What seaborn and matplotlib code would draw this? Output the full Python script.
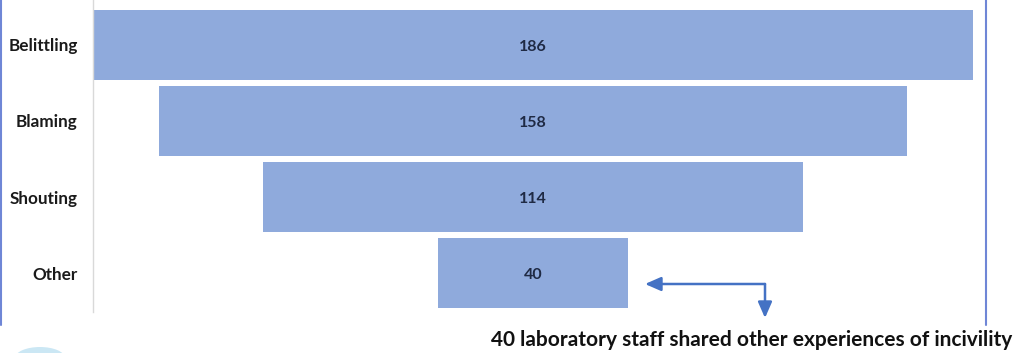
import matplotlib
matplotlib.use("Agg")
import matplotlib.pyplot as plt
import seaborn as sns
import pandas as pd
from matplotlib.lines import Line2D
from matplotlib.patches import Ellipse

categories = ["Belittling", "Blaming", "Shouting", "Other"]
counts = [186, 158, 114, 40]
note = "40 laboratory staff shared other experiences of incivility"

df = pd.DataFrame({"category": categories, "count": counts})

sns.set_theme(style="white")
plt.rcParams["font.family"] = ["Lato", "DejaVu Sans"]

W, H = 1014, 353
fig = plt.figure(figsize=(W / 100, H / 100), dpi=100)
# axes spans x pixels 93..973, y pixels 0..312
ax = fig.add_axes([93 / W, 1 - 312 / H, (973 - 93) / W, 312 / H])

bar_color = "#8FAADC"
sns.barplot(data=df, x="count", y="category", orient="h", color=bar_color,
            width=0.92, saturation=1, ax=ax)

# centre each bar to form a funnel
vmax = max(counts)
for patch, v in zip(ax.patches, counts):
    patch.set_x((vmax - v) / 2)
    patch.set_edgecolor("none")
    cy = patch.get_y() + patch.get_height() / 2
    ax.text(vmax / 2, cy + 0.02, f"{v}", ha="center", va="center",
            fontsize=11.5, fontweight="bold", color="#1F2A44")

ax.set_xlim(0, vmax)
ax.set_ylim(3.513, -0.592)
ax.set_xlabel("")
ax.set_ylabel("")
ax.set_xticks([])
ax.tick_params(axis="y", length=0, pad=11)
for lbl in ax.get_yticklabels():
    lbl.set_fontweight("bold")
    lbl.set_fontsize(12.3)
    lbl.set_color("#1a1a1a")
for s in ["top", "right", "bottom"]:
    ax.spines[s].set_visible(False)
ax.spines["left"].set_color("#d9d9d9")
ax.spines["left"].set_linewidth(1)

# outer frame lines
frame_col = "#6F86D6"
fig.add_artist(Line2D([1 / W, 1 / W], [1 - 325 / H, 1], color=frame_col, lw=1.5,
                      transform=fig.transFigure))
fig.add_artist(Line2D([986 / W, 986 / W], [1 - 325 / H, 1], color=frame_col, lw=1.5,
                      transform=fig.transFigure))

# elbow arrow pointing to the "Other" bar and down to the note
arrow_col = "#4472C4"
corner = (765 / W, 1 - 284 / H)
ax.annotate("", xy=(645 / W, corner[1]), xycoords="figure fraction",
            xytext=corner, textcoords="figure fraction",
            arrowprops=dict(arrowstyle="-|>,head_length=0.8,head_width=0.35",
                            color=arrow_col, lw=1.8, shrinkA=0, shrinkB=0),
            annotation_clip=False)
ax.annotate("", xy=(corner[0], 1 - 318 / H), xycoords="figure fraction",
            xytext=corner, textcoords="figure fraction",
            arrowprops=dict(arrowstyle="-|>,head_length=0.8,head_width=0.35",
                            color=arrow_col, lw=1.8, shrinkA=0, shrinkB=0),
            annotation_clip=False)

fig.text(1012 / W, 1 - 340 / H, note, ha="right", va="center",
         fontsize=15, fontweight="bold", color="#111111")

# partial logo swoosh in the corner
fig.add_artist(Ellipse((40 / W, 1 - 358 / H), 50 / W, 22 / H,
                       transform=fig.transFigure, color="#B5DDF0", alpha=0.7, lw=0))

fig.savefig("out.png", dpi=100, facecolor="white")
